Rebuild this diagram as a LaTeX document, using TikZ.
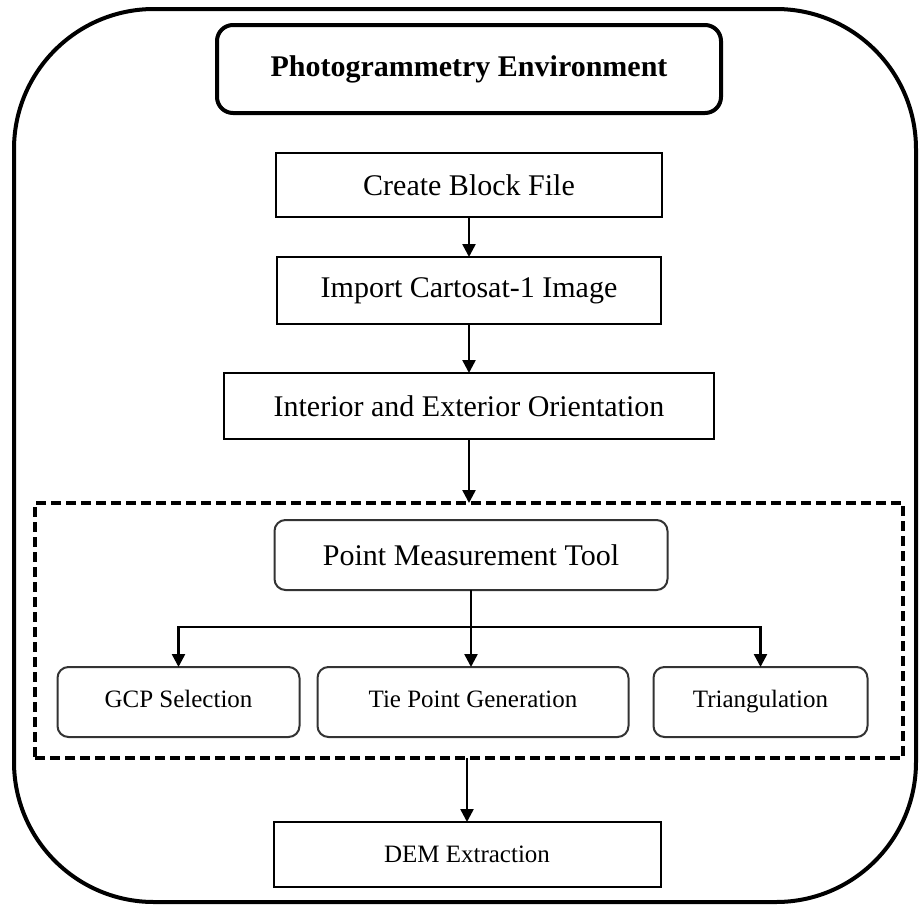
\documentclass[tikz,border=0pt]{standalone}
\usepackage{fontspec}
\setmainfont{Liberation Serif}
\usetikzlibrary{arrows.meta, positioning, fit, shapes}

\begin{document}
\begin{tikzpicture}[x=1pt,y=-1pt,>={Triangle[length=13pt,width=13pt]},
      line width=2.5pt,
      title node/.style={rectangle,rounded corners=16pt,draw,line width=4pt,
        minimum width=504pt,minimum height=88pt,inner sep=0pt,outer sep=0pt,
        font=\fontsize{30}{36}\selectfont\bfseries},
      step node/.style={rectangle,draw,line width=2pt,minimum height=66pt,
        inner sep=0pt,outer sep=0pt,font=\fontsize{30}{36}\selectfont},
      tool node/.style={rectangle,rounded corners=11pt,draw=black!80,line width=2pt,
        minimum width=393pt,minimum height=70pt,inner sep=0pt,outer sep=0pt,
        font=\fontsize{30}{36}\selectfont},
      sub node/.style={rectangle,rounded corners=11pt,draw=black!80,line width=2pt,
        minimum height=70pt,inner sep=0pt,outer sep=0pt,text height=17pt,text depth=6pt,
        font=\fontsize{25}{30}\selectfont},
      group box/.style={draw,dash pattern=on 10pt off 5pt,line width=3.5pt,
        inner sep=0pt,outer sep=0pt}]

      \useasboundingbox (0,0) rectangle (922,906);

      % outer frame
      \draw[line width=4pt,rounded corners=140pt] (14,9) rectangle (916,902);

      \node[title node] (env) at (469,69) {Photogrammetry Environment};
      \node[step node,minimum width=386pt,minimum height=64pt] (block) [below=40pt of env] {Create Block File};
      \node[step node,minimum width=384pt,minimum height=67pt] (import) [below=40pt of block] {Import Cartosat-1 Image};
      \node[step node,minimum width=490pt] (orient) [below=49pt of import] {Interior and Exterior Orientation};

      \node[tool node,xshift=2pt] (pmt) [below=81pt of orient] {Point Measurement Tool};
      \node[sub node,minimum width=311pt,xshift=2pt] (tie) [below=77pt of pmt] {Tie Point Generation};
      \node[sub node,minimum width=242pt] (gcp) [left=18pt of tie] {GCP Selection};
      \node[sub node,minimum width=214pt] (tri) [right=25pt of tie] {Triangulation};

      \node[group box,fit={(35,503) (903,758)}] (group) {};
      \node[step node,minimum width=387pt,minimum height=65pt,xshift=-6pt,
        font=\fontsize{25}{30}\selectfont] (dem) [below=85pt of tie] {DEM Extraction};

      \coordinate[below=37pt of pmt.south] (split);

      \foreach \s/\t in {block/import, import/orient} {
          \draw[->] (\s) -- (\t);}
      \draw[->] (orient.south) -- (orient.south |- group.north);
      \draw (pmt.south) -- (split);
      \draw[->] (split) -| (gcp.north);
      \draw[->] (split) -| (tri.north);
      \draw[->] (split) -- (split |- tie.north);
      \draw[->] (group.south -| dem.north) -- (dem.north);
\end{tikzpicture}
\end{document}
